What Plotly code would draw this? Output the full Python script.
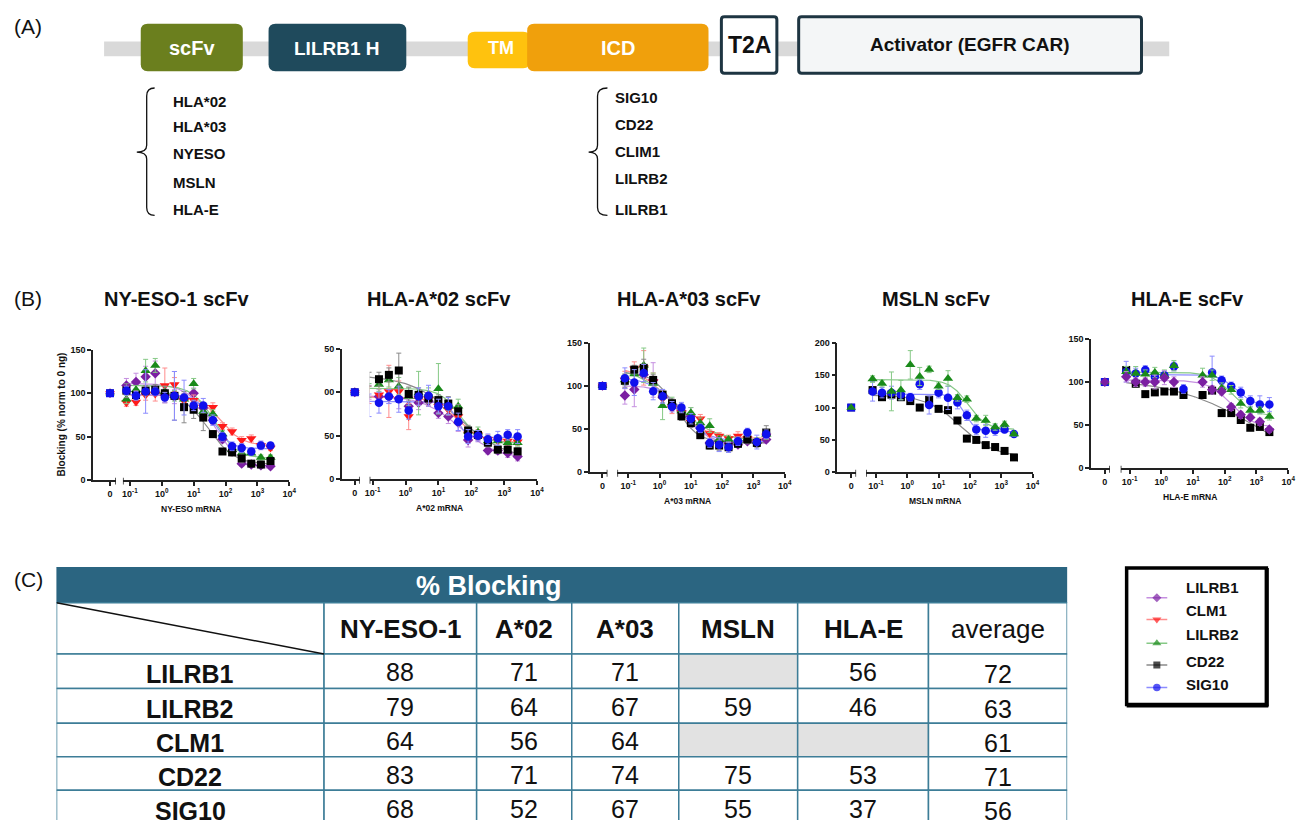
import numpy as np
import plotly.graph_objects as go

W, H = 1311, 825
FONT = "Liberation Sans, Arial, sans-serif"

# ---------------------------------------------------------------- data
DOSES = [0.078, 0.156, 0.3125, 0.625, 1.25, 2.5, 5, 10, 20, 40, 80, 160, 320, 640, 1280, 2560]
SERIES = ["LILRB1", "CLM1", "LILRB2", "CD22", "SIG10"]
ZERO_DOSE_VALUE = 100

NYESO_LILRB1 = [109, 113, 119, 123, 98, 96, 94, 100, 83, 69, 47, 33, 19, 18, 17, 16]
NYESO_CLM1 = [89, 90, 98, 99, 109, 110, 91, 92, 84, 84, 62, 56, 46, 48, 40, 37]
NYESO_LILRB2 = [93, 104, 126, 132, 102, 97, 93, 111, 79, 76, 53, 35, 31, 31, 26, 26]
NYESO_CD22 = [103, 98, 103, 104, 100, 97, 84, 81, 72, 53, 33, 32, 25, 19, 18, 22]
NYESO_SIG10 = [103, 97, 102, 102, 95, 97, 95, 86, 86, 69, 50, 39, 37, 33, 40, 40]
NYESO_LILRB1_SD = [8, 10, 12, 14, 8, 8, 6, 6, 6, 5, 4, 3, 3, 3, 3, 3]
NYESO_CLM1_SD = [4, 4, 6, 8, 20, 8, 8, 6, 5, 5, 4, 4, 4, 4, 4, 3]
NYESO_LILRB2_SD = [5, 5, 13, 8, 6, 6, 6, 6, 5, 5, 4, 4, 3, 3, 3, 3]
NYESO_CD22_SD = [8, 5, 6, 6, 8, 28, 18, 10, 15, 4, 3, 4, 5, 3, 3, 3]
NYESO_SIG10_SD = [5, 5, 25, 5, 6, 28, 20, 6, 8, 6, 5, 5, 5, 4, 5, 3]

A02_LILRB1 = [100, 95, 95, 93, 84, 88, 90, 76, 72, 65, 45, 49, 33, 33, 30, 26]
A02_CLM1 = [97, 97, 101, 101, 72, 93, 92, 84, 80, 72, 52, 51, 46, 44, 44, 43]
A02_LILRB2 = [102, 109, 114, 107, 95, 99, 97, 104, 84, 84, 55, 54, 44, 44, 42, 42]
A02_CD22 = [115, 115, 120, 125, 98, 97, 93, 91, 87, 78, 56, 51, 42, 34, 34, 32]
A02_SIG10 = [85, 88, 95, 92, 79, 95, 96, 84, 84, 66, 49, 50, 46, 47, 51, 49]
A02_LILRB1_SD = [8, 8, 8, 12, 10, 8, 6, 6, 8, 10, 8, 6, 4, 4, 5, 5]
A02_CLM1_SD = [10, 10, 30, 12, 15, 8, 8, 8, 6, 6, 6, 6, 5, 5, 5, 4]
A02_LILRB2_SD = [8, 8, 8, 10, 10, 25, 8, 29, 10, 8, 6, 6, 6, 5, 5, 4]
A02_CD22_SD = [8, 8, 8, 20, 8, 8, 6, 6, 8, 8, 6, 5, 5, 4, 4, 4]
A02_SIG10_SD = [13, 12, 8, 15, 10, 10, 12, 8, 10, 10, 8, 6, 6, 8, 6, 8]

A03_LILRB1 = [89, 96, 113, 107, 87, 78, 71, 65, 51, 34, 36, 34, 32, 36, 34, 38]
A03_CLM1 = [107, 120, 121, 105, 86, 74, 69, 58, 62, 45, 42, 39, 42, 39, 35, 42]
A03_LILRB2 = [107, 114, 124, 103, 77, 81, 71, 69, 57, 54, 38, 38, 36, 39, 36, 44]
A03_CD22 = [106, 119, 121, 107, 90, 80, 65, 57, 43, 31, 31, 29, 33, 38, 34, 46]
A03_SIG10 = [109, 104, 115, 94, 88, 76, 75, 62, 51, 34, 32, 29, 36, 46, 35, 44]
A03_LILRB1_SD = [10, 20, 8, 20, 6, 6, 6, 10, 6, 5, 4, 4, 3, 3, 3, 3]
A03_CLM1_SD = [10, 8, 20, 10, 8, 6, 6, 6, 5, 4, 4, 4, 5, 4, 4, 4]
A03_LILRB2_SD = [6, 8, 20, 12, 16, 6, 8, 6, 6, 8, 4, 4, 4, 4, 4, 4]
A03_CD22_SD = [8, 5, 10, 6, 6, 5, 5, 5, 4, 4, 6, 6, 4, 5, 5, 8]
A03_SIG10_SD = [12, 15, 10, 10, 8, 6, 6, 6, 5, 5, 8, 6, 5, 5, 8, 5]

MSLN_LILRB2 = [144, 137, 125, 127, 166, 148, 159, 133, 145, 115, 113, 83, 80, 70, 74, 59]
MSLN_CD22 = [127, 116, 120, 116, 110, 100, 112, 98, 96, 80, 52, 50, 42, 39, 33, 23]
MSLN_SIG10 = [125, 123, 123, 120, 116, 136, 104, 123, 115, 108, 88, 66, 64, 65, 66, 59]
MSLN_LILRB2_SD = [5, 5, 30, 15, 22, 14, 5, 5, 12, 5, 5, 5, 8, 5, 5, 3]
MSLN_CD22_SD = [4, 3, 3, 3, 3, 3, 3, 3, 3, 3, 3, 3, 3, 3, 3, 3]
MSLN_SIG10_SD = [15, 8, 10, 8, 6, 8, 14, 8, 18, 10, 8, 8, 10, 8, 5, 3]

HLAE_LILRB1 = [106, 100, 100, 100, 105, 100, None, None, 100, 91, 89, 71, 62, 59, 54, 45]
HLAE_LILRB2 = [112, 110, 109, 111, 108, 119, None, None, 108, 108, 93, 91, 75, 67, 67, 60]
HLAE_CD22 = [114, 98, 86, 88, 89, 89, 85, None, 85, 90, 64, 64, 56, 47, 48, 42]
HLAE_SIG10 = [112, 110, 114, 106, 108, 118, 92, None, None, 111, 102, 95, 88, 78, 74, 74]
HLAE_LILRB1_SD = [6, 5, 5, 8, 8, 6, 0, 0, 6, 5, 4, 4, 4, 4, 4, 3]
HLAE_LILRB2_SD = [6, 8, 5, 6, 6, 6, 0, 0, 8, 6, 6, 5, 5, 4, 4, 4]
HLAE_CD22_SD = [3, 3, 3, 3, 3, 3, 3, 0, 3, 3, 3, 3, 3, 3, 3, 3]
HLAE_SIG10_SD = [12, 6, 5, 6, 5, 5, 5, 0, 0, 19, 5, 5, 6, 6, 10, 8]

# table of % blocking (None = not tested)
TABLE_COLUMNS = ["NY-ESO-1", "A*02", "A*03", "MSLN", "HLA-E", "average"]
TABLE_ROWS = ["LILRB1", "LILRB2", "CLM1", "CD22", "SIG10"]
BLOCK_LILRB1 = [88, 71, 71, None, 56, 72]
BLOCK_LILRB2 = [79, 64, 67, 59, 46, 63]
BLOCK_CLM1 = [64, 56, 64, None, None, 61]
BLOCK_CD22 = [83, 71, 74, 75, 53, 71]
BLOCK_SIG10 = [68, 52, 67, 55, 37, 56]

# construct diagram labels
SCFV_TARGETS = ["HLA*02", "HLA*03", "NYESO", "MSLN", "HLA-E"]
ICD_DOMAINS = ["SIG10", "CD22", "CLIM1", "LILRB2", "LILRB1"]

# ---------------------------------------------------------------- styles
COLORS = {"LILRB1": "#7b1fa2", "CLM1": "#ff1a1a", "LILRB2": "#1a8a1a",
          "CD22": "#000000", "SIG10": "#1010ee"}
LIGHT = {"LILRB1": "#c58fe0", "CLM1": "#ff8c8c", "LILRB2": "#86c986",
         "CD22": "#8a8a8a", "SIG10": "#8c8cff"}
SYMBOLS = {"LILRB1": "diamond", "CLM1": "triangle-down", "LILRB2": "triangle-up",
           "CD22": "square", "SIG10": "circle"}
SIZES = {"LILRB1": 8, "CLM1": 9, "LILRB2": 9, "CD22": 8, "SIG10": 8.5}
DECADE_LABELS = ["10<sup>-1</sup>", "10<sup>0</sup>", "10<sup>1</sup>", "10<sup>2</sup>",
                 "10<sup>3</sup>", "10<sup>4</sup>"]

PANELS = [
    dict(title="NY-ESO-1 scFv", xlabel="NY-ESO mRNA", title_x=173,
         series=[("LILRB1", NYESO_LILRB1, NYESO_LILRB1_SD), ("CLM1", NYESO_CLM1, NYESO_CLM1_SD),
                 ("LILRB2", NYESO_LILRB2, NYESO_LILRB2_SD), ("CD22", NYESO_CD22, NYESO_CD22_SD),
                 ("SIG10", NYESO_SIG10, NYESO_SIG10_SD)],
         X0=89, zero=106, end=112, start=119, dm1=126, d4=287, ybot=481, ytop=349,
         ymax=150, yticks=[0, 50, 100, 150], ytext=["0", "50", "100", "150"], xl_y=510),
    dict(title="HLA-A*02 scFv", xlabel="A*02 mRNA", title_x=438,
         series=[("LILRB1", A02_LILRB1, A02_LILRB1_SD), ("CLM1", A02_CLM1, A02_CLM1_SD),
                 ("LILRB2", A02_LILRB2, A02_LILRB2_SD), ("CD22", A02_CD22, A02_CD22_SD),
                 ("SIG10", A02_SIG10, A02_SIG10_SD)],
         X0=340, zero=353, end=358, start=368, dm1=371, d4=537, ybot=480, ytop=348,
         ymax=150, yticks=[0, 50, 100, 150], ytext=["0", "50", "00", "50"], xl_y=509),
    dict(title="HLA-A*03 scFv", xlabel="A*03 mRNA", title_x=690,
         series=[("LILRB1", A03_LILRB1, A03_LILRB1_SD), ("CLM1", A03_CLM1, A03_CLM1_SD),
                 ("LILRB2", A03_LILRB2, A03_LILRB2_SD), ("CD22", A03_CD22, A03_CD22_SD),
                 ("SIG10", A03_SIG10, A03_SIG10_SD)],
         X0=590, zero=603, end=608, start=618, dm1=629, d4=787, ybot=473, ytop=342,
         ymax=150, yticks=[0, 50, 100, 150], ytext=["0", "50", "100", "150"], xl_y=502),
    dict(title="MSLN scFv", xlabel="MSLN mRNA", title_x=940,
         series=[("CD22", MSLN_CD22, MSLN_CD22_SD), ("SIG10", MSLN_SIG10, MSLN_SIG10_SD),
                 ("LILRB2", MSLN_LILRB2, MSLN_LILRB2_SD)],
         X0=840, zero=854, end=859, start=869, dm1=879, d4=1037, ybot=473, ytop=342,
         ymax=200, yticks=[0, 50, 100, 150, 200], ytext=["0", "50", "100", "150", "200"], xl_y=502),
    dict(title="HLA-E scFv", xlabel="HLA-E mRNA", title_x=1193,
         series=[("CD22", HLAE_CD22, HLAE_CD22_SD), ("SIG10", HLAE_SIG10, HLAE_SIG10_SD),
                 ("LILRB2", HLAE_LILRB2, HLAE_LILRB2_SD), ("LILRB1", HLAE_LILRB1, HLAE_LILRB1_SD)],
         X0=1096, zero=1110, end=1115, start=1126, dm1=1135, d4=1295, ybot=469, ytop=338,
         ymax=150, yticks=[0, 50, 100, 150], ytext=["0", "50", "100", "150"], xl_y=498),
]


def px(x):
    return x / W


def py(y):
    return 1 - y / H


def fit_4pl(x, y):
    """Least-squares four-parameter logistic fit (grid over EC50/slope, linear top/bottom)."""
    lx = np.log10(np.asarray(x, float))
    y = np.asarray(y, float)
    c = np.arange(-1.5, 3.6, 0.02)
    h = np.arange(0.3, 3.01, 0.05)
    C, Hs = np.meshgrid(c, h, indexing="ij")
    s = 1.0 / (1.0 + 10 ** ((lx[None, None, :] - C[..., None]) * Hs[..., None]))
    a = 1.0 - s
    saa, sss, sas = (a * a).sum(-1), (s * s).sum(-1), (a * s).sum(-1)
    say, ssy = (a * y).sum(-1), (s * y).sum(-1)
    det = saa * sss - sas ** 2
    ok = det > 1e-6
    det = np.where(ok, det, 1.0)
    bottom = (say * sss - ssy * sas) / det
    top = (ssy * saa - say * sas) / det
    pred = bottom[..., None] * a + top[..., None] * s
    sse = np.where(ok, ((pred - y) ** 2).sum(-1), np.inf)
    i, j = np.unravel_index(np.argmin(sse), sse.shape)
    return bottom[i, j], top[i, j], c[i], h[j]


def axname(kind, n):
    return kind if n == 1 else f"{kind}{n}"


fig = go.Figure()
layout_axes = {}
annotations = []
shapes = []
AXIS_COLOR = "#222222"

axis_common = dict(showline=True, linecolor=AXIS_COLOR, linewidth=1.5, ticks="outside",
                   ticklen=4, tickwidth=1.5, tickcolor=AXIS_COLOR, showgrid=False,
                   zeroline=False, fixedrange=True,
                   tickfont=dict(family=FONT, size=9, color="#111111", weight="bold"))

for k, p in enumerate(PANELS):
    xz, xl, yk = 2 * k + 1, 2 * k + 2, k + 1
    # broken x axis: a short linear segment holding the zero-dose point, then a log segment
    layout_axes[f"xaxis{xz}"] = dict(
        axis_common, domain=[px(p["X0"]), px(p["end"])],
        range=[-(p["zero"] - p["X0"]), p["end"] - p["zero"]],
        tickvals=[0], ticktext=["0"], anchor=axname("y", yk))
    per_dec = (p["d4"] - p["dm1"]) / 5.0
    left = -1 - (p["dm1"] - p["start"]) / per_dec
    layout_axes[f"xaxis{xl}"] = dict(
        axis_common, type="log", domain=[px(p["start"]), px(p["d4"])], range=[left, 4],
        tickvals=[0.1, 1, 10, 100, 1000, 10000], ticktext=DECADE_LABELS,
        anchor=axname("y", yk))
    layout_axes[f"yaxis{yk}"] = dict(
        axis_common, domain=[py(p["ybot"]), py(p["ytop"])], range=[0, p["ymax"]],
        tickvals=p["yticks"], ticktext=p["ytext"], anchor=axname("x", xz))

    xr_zero, xr_log, yr = axname("x", xz), axname("x", xl), axname("y", yk)

    # end ticks on either side of the axis break
    for xref, xv in [(xr_zero, p["end"] - p["zero"]), (xr_log, 10 ** left)]:
        shapes.append(dict(type="line", xref=xref, yref="paper", x0=xv, x1=xv,
                           y0=py(p["ybot"] + 4.5), y1=py(p["ybot"] - 2.5),
                           line=dict(color=AXIS_COLOR, width=1.5)))

    # fitted curves underneath the points
    for name, vals, sd in p["series"]:
        pts = [(d, v) for d, v in zip(DOSES, vals) if v is not None]
        dx = [d for d, _ in pts]
        dy = [v for _, v in pts]
        bottom, top, logec50, hill = fit_4pl(dx, dy)
        xc = np.logspace(np.log10(dx[0]), np.log10(dx[-1]), 160)
        yc = bottom + (top - bottom) / (1 + 10 ** ((np.log10(xc) - logec50) * hill))
        fig.add_trace(go.Scatter(x=xc, y=yc, mode="lines", xaxis=xr_log, yaxis=yr,
                                 line=dict(color=LIGHT[name], width=1.2),
                                 showlegend=False, hoverinfo="skip"))

    for name, vals, sd in p["series"]:
        fig.add_trace(go.Scatter(
            x=DOSES, y=vals, mode="markers", xaxis=xr_log, yaxis=yr, cliponaxis=False,
            marker=dict(symbol=SYMBOLS[name], size=SIZES[name], color=COLORS[name],
                        line=dict(width=0)),
            error_y=dict(type="data", array=sd, color=LIGHT[name], thickness=1, width=2.5),
            name=name, showlegend=False))
        fig.add_trace(go.Scatter(
            x=[0], y=[ZERO_DOSE_VALUE], mode="markers", xaxis=xr_zero, yaxis=yr,
            cliponaxis=False,
            marker=dict(symbol="square" if name == "SIG10" else SYMBOLS[name],
                        size=SIZES[name] - 0.5, color=COLORS[name], line=dict(width=0)),
            name=name, showlegend=False))

    annotations.append(dict(text=p["title"], x=px(p["title_x"]), y=py(298), xref="paper",
                            yref="paper", showarrow=False, xanchor="center", yanchor="middle",
                            font=dict(family=FONT, size=20, color="#111111", weight="bold")))
    annotations.append(dict(text=p["xlabel"], x=px((p["X0"] + p["d4"]) / 2), y=py(p["xl_y"]),
                            xref="paper", yref="paper", showarrow=False, xanchor="center",
                            yanchor="middle",
                            font=dict(family=FONT, size=8.5, color="#111111", weight="bold")))

annotations.append(dict(text="Blocking (% norm to 0 ng)", x=px(58), y=py(414), xref="paper",
                        yref="paper", showarrow=False, textangle=-90, xanchor="center",
                        yanchor="middle",
                        font=dict(family=FONT, size=10, color="#111111", weight="bold")))

# ---------------------------------------------------------------- legend box (own axes, px units)
LEG_TEXT_Y = [590, 613, 637, 665, 688]
LEG_KEY_Y = [600, 622, 646, 668, 691]
layout_axes["xaxis12"] = dict(domain=[px(1120), px(1290)], range=[1120, 1290], visible=False,
                              fixedrange=True, anchor="y7")
layout_axes["yaxis7"] = dict(domain=[py(720), py(560)], range=[720, 560], visible=False,
                             fixedrange=True, anchor="x12")
for name, ty, ky in zip(SERIES, LEG_TEXT_Y, LEG_KEY_Y):
    fig.add_trace(go.Scatter(x=[1152, 1162.5, 1173], y=[ky, ky, ky], mode="lines+markers",
                             xaxis="x12", yaxis="y7", name=name, showlegend=False,
                             line=dict(color=LIGHT[name], width=1.5),
                             marker=dict(symbol=SYMBOLS[name], size=[0, SIZES[name] - 1, 0],
                                         color=COLORS[name], line=dict(width=0)),
                             hoverinfo="skip"))
    annotations.append(dict(text=name, x=1190, y=ty, xref="x12", yref="y7", showarrow=False,
                            xanchor="left", yanchor="middle",
                            font=dict(family=FONT, size=15, color="#111111", weight="bold")))
shapes.append(dict(type="rect", xref="x12", yref="y7", x0=1132, x1=1273, y0=570, y1=708,
                   line=dict(color="#000000", width=3.5), fillcolor="rgba(0,0,0,0)"))
shapes.append(dict(type="line", xref="x12", yref="y7", x0=1274, x1=1274, y0=570, y1=710,
                   line=dict(color="#000000", width=3)))
shapes.append(dict(type="line", xref="x12", yref="y7", x0=1132, x1=1275, y0=709.5, y1=709.5,
                   line=dict(color="#000000", width=3)))

# ---------------------------------------------------------------- panel labels
for lab, yy in [("(A)", 22), ("(B)", 297), ("(C)", 582)]:
    annotations.append(dict(text=lab, x=px(7), y=py(yy), xref="paper", yref="paper",
                            showarrow=False, xanchor="left", yanchor="middle",
                            font=dict(family=FONT, size=21, color="#111111")))


# ---------------------------------------------------------------- construct diagram
def rrect_path(x0, y0, x1, y1, r):
    rx, ry = r / W, r / H
    X0, X1, Y0, Y1 = px(x0), px(x1), py(y0), py(y1)  # Y0 is the top edge
    return (f"M {X0 + rx},{Y0} L {X1 - rx},{Y0} Q {X1},{Y0} {X1},{Y0 - ry} "
            f"L {X1},{Y1 + ry} Q {X1},{Y1} {X1 - rx},{Y1} L {X0 + rx},{Y1} "
            f"Q {X0},{Y1} {X0},{Y1 + ry} L {X0},{Y0 - ry} Q {X0},{Y0} {X0 + rx},{Y0} Z")


shapes.append(dict(type="rect", xref="paper", yref="paper", x0=px(100), x1=px(1175),
                   y0=py(52), y1=py(37), fillcolor="#d9d9d9", line=dict(width=0), layer="below"))
blocks = [("scFv", 137, 19, 240, 67, "#6b7f1e", 20), ("LILRB1 H", 266, 19, 405, 67, "#1f4a5c", 19),
          ("TM", 467, 27, 530, 64, "#ffc20e", 18), ("ICD", 527, 19, 710, 67, "#f0a00c", 20)]
for label, x0, y0, x1, y1, col, fs in blocks:
    shapes.append(dict(type="path", xref="paper", yref="paper",
                       path=rrect_path(x0, y0, x1, y1, 7), fillcolor=col, line=dict(width=0)))
for label, x0, y0, x1, y1, col, fs in blocks:
    annotations.append(dict(text=label, x=px((x0 + x1) / 2 + (2 if label == "TM" else 0)),
                            y=py(44), xref="paper", yref="paper", showarrow=False,
                            xanchor="center", yanchor="middle",
                            font=dict(family=FONT, size=fs, color="white", weight="bold")))
for label, x0, x1, fill, fs in [("T2A", 723, 779, "#ffffff", 23),
                                ("Activator (EGFR CAR)", 801, 1147, "#f4f6f7", 19)]:
    shapes.append(dict(type="path", xref="paper", yref="paper",
                       path=rrect_path(x0, 12, x1, 69, 3), fillcolor=fill,
                       line=dict(color="#1e3542", width=3)))
    annotations.append(dict(text=label, x=px((x0 + x1) / 2), y=py(40), xref="paper",
                            yref="paper", showarrow=False, xanchor="center", yanchor="middle",
                            font=dict(family=FONT, size=fs, color="#111111", weight="bold")))


def brace_path(xe, xv, xt, ytop, ymid, ybot):
    pts = lambda x, y: f"{px(x)},{py(y)}"
    return (f"M {pts(xe, ytop)} Q {pts(xv, ytop)} {pts(xv, ytop + 8)} "
            f"L {pts(xv, ymid - 7)} Q {pts(xv, ymid)} {pts(xt, ymid)} "
            f"Q {pts(xv, ymid)} {pts(xv, ymid + 7)} "
            f"L {pts(xv, ybot - 8)} Q {pts(xv, ybot)} {pts(xe, ybot)}")


shapes.append(dict(type="path", xref="paper", yref="paper",
                   path=brace_path(151, 143, 133, 84, 149, 213), line=dict(color="#111111", width=1.3)))
shapes.append(dict(type="path", xref="paper", yref="paper",
                   path=brace_path(608, 598, 589, 84, 149, 213), line=dict(color="#111111", width=1.3)))

for txt, yy in zip(SCFV_TARGETS, [98, 123, 150, 180, 207]):
    annotations.append(dict(text=txt, x=px(168), y=py(yy), xref="paper", yref="paper",
                            showarrow=False, xanchor="left", yanchor="middle",
                            font=dict(family=FONT, size=15, color="#111111", weight="bold")))
for txt, yy in zip(ICD_DOMAINS, [94, 121, 148, 176, 207]):
    annotations.append(dict(text=txt, x=px(614), y=py(yy), xref="paper", yref="paper",
                            showarrow=False, xanchor="left", yanchor="middle",
                            font=dict(family=FONT, size=15, color="#111111", weight="bold")))

# ---------------------------------------------------------------- table (own axes, px units)
TEAL = "#2b6581"
GRID = "#3d7d97"
col_edges = [52, 322, 476, 572, 680, 800, 932, 1072]
row_edges = [605, 657, 692, 727, 761, 795, 830]
layout_axes["xaxis11"] = dict(domain=[px(52), px(1072)], range=[52, 1072], visible=False,
                              fixedrange=True, anchor="y6")
layout_axes["yaxis6"] = dict(domain=[0, py(569)], range=[825, 569], visible=False,
                             fixedrange=True, anchor="x11")
tshape = dict(xref="x11", yref="y6", type="rect")
shapes.append(dict(tshape, x0=52, x1=1072, y0=569, y1=605, fillcolor=TEAL,
                   line=dict(color=TEAL, width=1)))
annotations.append(dict(text="% Blocking", x=488, y=588, xref="x11", yref="y6", showarrow=False,
                        xanchor="center", yanchor="middle",
                        font=dict(family=FONT, size=27, color="white", weight="bold")))
table_values = [BLOCK_LILRB1, BLOCK_LILRB2, BLOCK_CLM1, BLOCK_CD22, BLOCK_SIG10]
for r in range(len(row_edges) - 1):
    for c in range(len(col_edges) - 1):
        fill = "white"
        if r >= 1 and c >= 1 and table_values[r - 1][c - 1] is None:
            fill = "#e2e2e2"
        shapes.append(dict(tshape, x0=col_edges[c], x1=col_edges[c + 1], y0=row_edges[r],
                           y1=row_edges[r + 1], fillcolor=fill, line=dict(color=GRID, width=1.5)))
shapes.append(dict(type="line", xref="x11", yref="y6", x0=52, y0=605, x1=322, y1=657,
                   line=dict(color="#111111", width=1.5)))
for c, head in enumerate(TABLE_COLUMNS):
    annotations.append(dict(text=head, x=(col_edges[c + 1] + col_edges[c + 2]) / 2, y=632,
                            xref="x11", yref="y6", showarrow=False, xanchor="center",
                            yanchor="middle",
                            font=dict(family=FONT, size=26, color="#111111",
                                      weight="normal" if head == "average" else "bold")))
for r, (rname, vals) in enumerate(zip(TABLE_ROWS, table_values)):
    yc = (row_edges[r + 1] + row_edges[r + 2]) / 2
    annotations.append(dict(text=rname, x=(col_edges[0] + col_edges[1]) / 2, y=yc + 3,
                            xref="x11", yref="y6", showarrow=False, xanchor="center",
                            yanchor="middle",
                            font=dict(family=FONT, size=25, color="#111111", weight="bold")))
    for c, v in enumerate(vals):
        if v is None:
            continue
        annotations.append(dict(text=str(v), x=(col_edges[c + 1] + col_edges[c + 2]) / 2,
                                y=yc + (3 if c == 5 else 1), xref="x11", yref="y6",
                                showarrow=False, xanchor="center", yanchor="middle",
                                font=dict(family=FONT, size=25, color="#111111")))

fig.update_layout(
    width=W, height=H, margin=dict(l=0, r=0, t=0, b=0), autosize=False,
    paper_bgcolor="white", plot_bgcolor="white",
    font=dict(family=FONT, color="#111111"),
    showlegend=False,
    annotations=annotations, shapes=shapes,
    **layout_axes,
)

fig.write_html("out.html")
